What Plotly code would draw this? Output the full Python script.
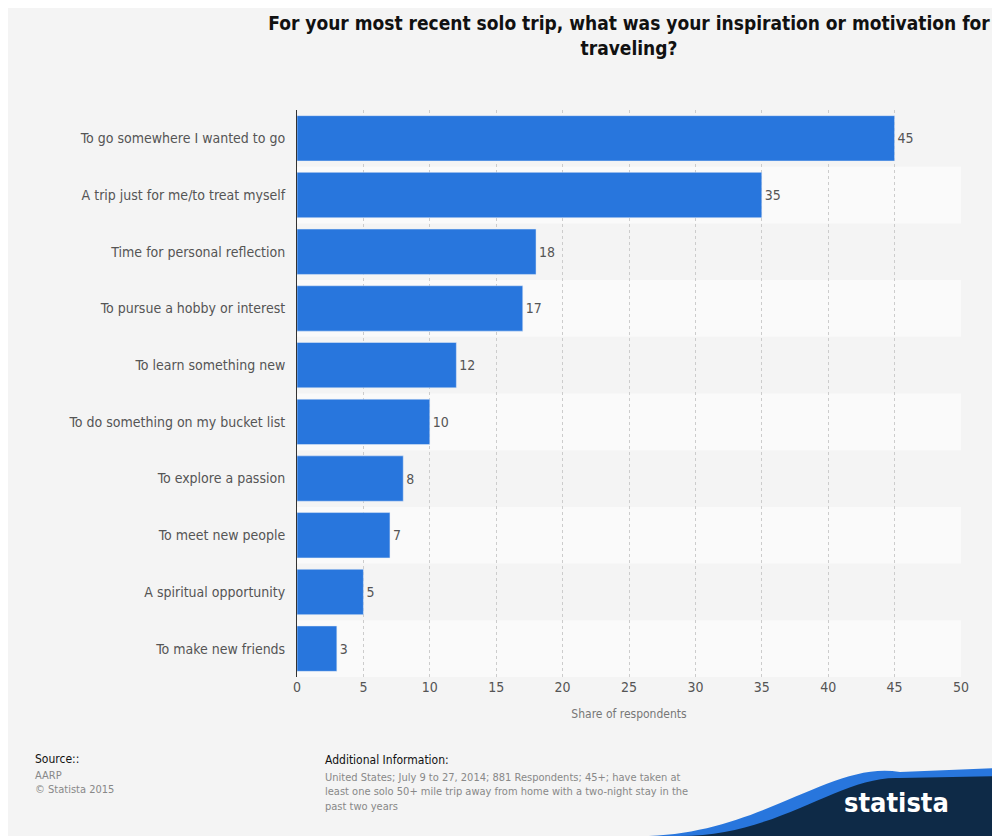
import plotly.graph_objects as go

categories = ["To go somewhere I wanted to go", "A trip just for me/to treat myself",
              "Time for personal reflection", "To pursue a hobby or interest",
              "To learn something new", "To do something on my bucket list",
              "To explore a passion", "To meet new people", "A spiritual opportunity",
              "To make new friends"]
values = [45, 35, 18, 17, 12, 10, 8, 7, 5, 3]
x_ticks = [0, 5, 10, 15, 20, 25, 30, 35, 40, 45, 50]

font = "DejaVu Sans Condensed, DejaVu Sans, sans-serif"
fig = go.Figure(go.Bar(
    y=categories, x=values, orientation="h", marker_color="#2876dd",
    text=values, textposition="outside", cliponaxis=False,
    textfont=dict(color="#555555", size=14, family=font), width=0.8))

OX, OY, PW, PH = 289, 102, 664, 567  # plot origin in page px (page has 8px offset)

def px(x, y):
    return (x - 8 - OX) / PW, 1 - (y - 8 - OY) / PH

shapes = []
for i in range(len(categories)):
    if i % 2 == 1:
        shapes.append(dict(type="rect", xref="paper", yref="y", x0=0, x1=1,
                           y0=i - 0.5, y1=i + 0.5, fillcolor="#fafafa",
                           line_width=0, layer="below"))

def path(pts, start):
    s = "M %f %f " % px(*start)
    for seg in pts:
        if len(seg) == 3:
            s += "C %f %f, %f %f, %f %f " % (*px(*seg[0]), *px(*seg[1]), *px(*seg[2]))
        else:
            s += "L %f %f " % px(*seg[0])
    return s + "Z"

blue = path([((760, 836), (830, 760), (900, 772)), ((1000, 768),), ((1000, 850),), ((640, 850),)], (640, 836))
dark = path([((780, 836), (840, 775), (900, 778)), ((1000, 776),), ((1000, 850),), ((680, 850),)], (680, 836))
shapes.append(dict(type="path", xref="paper", yref="paper", path=blue, fillcolor="#2876dd", line_width=0))
shapes.append(dict(type="path", xref="paper", yref="paper", path=dark, fillcolor="#0e2a47", line_width=0))

fig.update_layout(
    width=1000, height=836, paper_bgcolor="#f4f4f4", plot_bgcolor="#f4f4f4",
    margin=dict(l=OX, r=1000 - OX - PW, t=OY, b=836 - OY - PH),
    font=dict(family=font, color="#555555"),
    showlegend=False, shapes=shapes,
    title=dict(text="<b>For your most recent solo trip, what was your inspiration or motivation for<br>traveling?</b>",
               x=0.5, xref="paper", y=1 - 22 / 836, xanchor="center", yanchor="top",
               font=dict(size=19, color="#111111", family="DejaVu Sans Condensed, DejaVu Sans, sans-serif")),
    xaxis=dict(range=[0, 50], tickvals=x_ticks, showgrid=True, gridcolor="#cccccc",
               griddash="dot", zeroline=False, ticks="", tickfont=dict(size=14, color="#555555"),
               title=dict(text="Share of respondents", font=dict(size=12, color="#777777"))),
    yaxis=dict(autorange="reversed", showline=True, linecolor="#333333", ticks="",
               ticksuffix="  ", tickfont=dict(size=14, color="#555555")),
)
ann = [
    dict(text="Source::", x=33, y=750, font=dict(size=12, color="#111111")),
    dict(text="AARP<br>© Statista 2015", x=33, y=767, font=dict(size=11, color="#888888")),
    dict(text="Additional Information:", x=323, y=751, font=dict(size=12, color="#111111")),
    dict(text="United States; July 9 to 27, 2014; 881 Respondents; 45+; have taken at<br>least one solo 50+ mile trip away from home with a two-night stay in the<br>past two years",
         x=323, y=769, font=dict(size=11, color="#888888")),
    dict(text="<b>statista</b>", x=842, y=785, font=dict(size=27, color="#ffffff", family="DejaVu Sans Condensed, DejaVu Sans")),
]
for a in ann:
    x, y = px(a["x"], a["y"])
    fig.add_annotation(xref="paper", yref="paper", xanchor="left", yanchor="top",
                       x=x, y=y, text=a["text"], showarrow=False, align="left", font=a["font"])
fig.write_html("out.html")
